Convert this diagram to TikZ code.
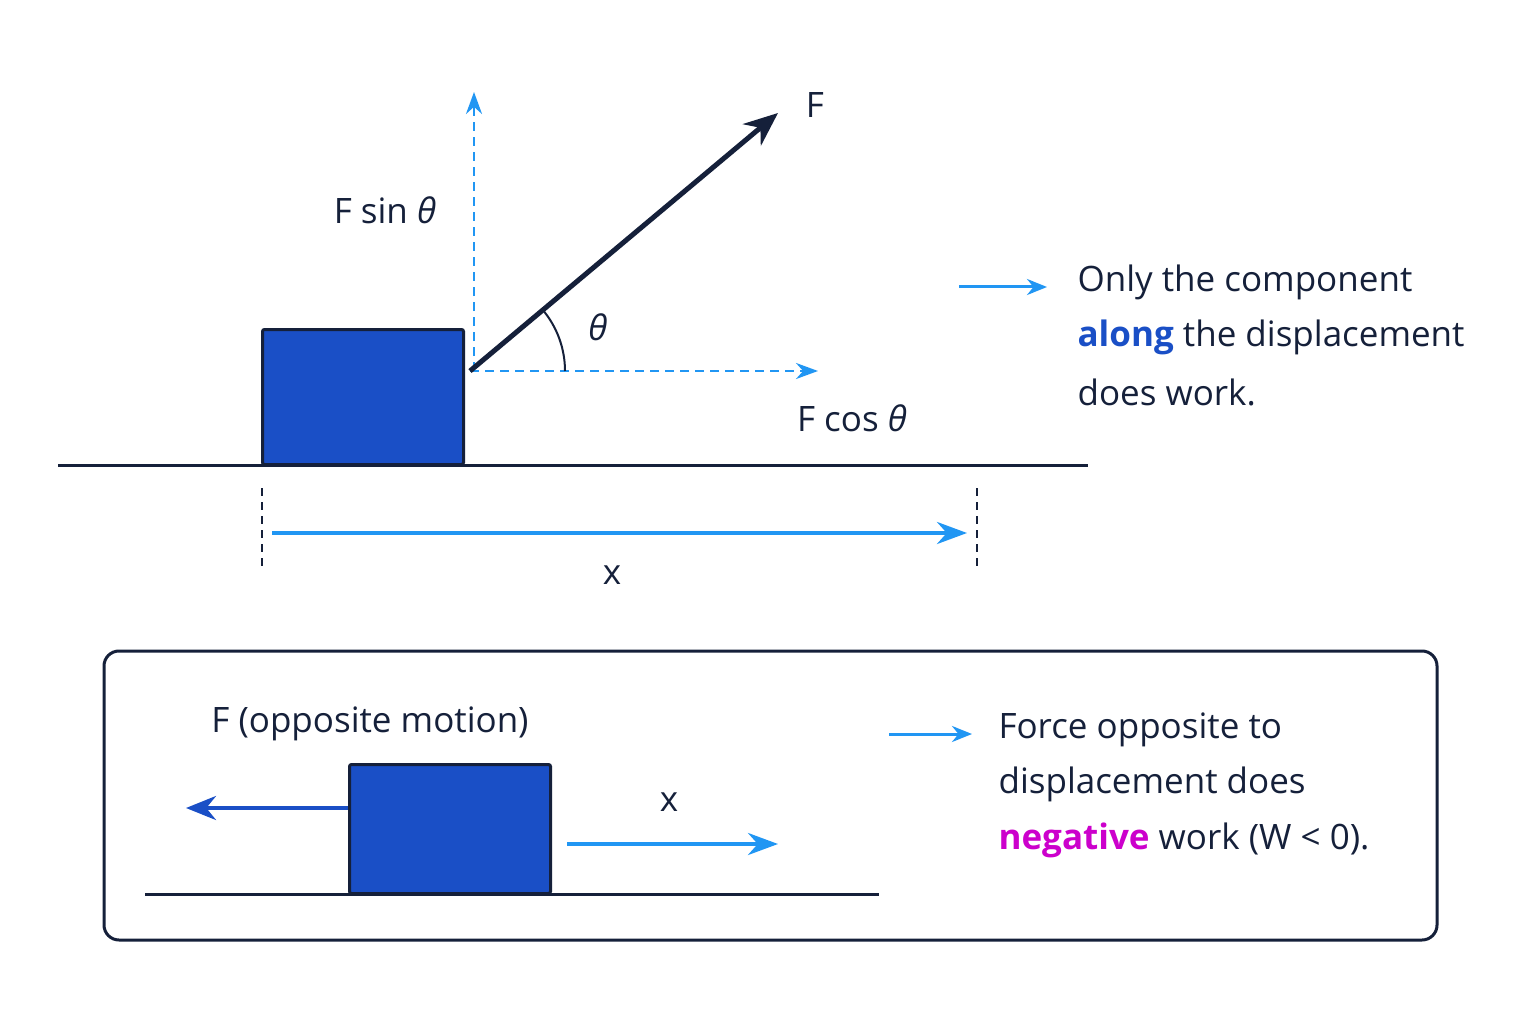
\documentclass[tikz,border=0pt]{standalone}
\usepackage{fontspec}
\setmainfont{Open Sans}
\usetikzlibrary{arrows.meta,calc}
\definecolor{navy}{HTML}{15203A}
\definecolor{bblue}{HTML}{1A4FC6}
\definecolor{lblue}{HTML}{2196F3}
\definecolor{mag}{HTML}{CC00CC}
\newcommand{\thet}{{\itshape θ}}
\begin{document}
\begin{tikzpicture}[x=1pt,y=-1pt,
 lbl/.style={font=\fontsize{35}{40}\selectfont,text=navy},
 txt/.style={font=\fontsize{35}{40}\selectfont,text=navy,anchor=west},
 block/.style={draw=navy,line width=3pt,fill=bblue,rounded corners=2pt},
 ground/.style={navy,line width=3pt},
 dashv/.style={lblue,line width=2.5pt,dash pattern=on 9pt off 6pt,-{Stealth[length=22pt,width=16pt]}},
 barr/.style={lblue,line width=4pt,-{Stealth[length=30pt,width=22pt]}}]
\fill[white] (0,0) rectangle (1536,1024);
\useasboundingbox (0,0) rectangle (1536,1024);
% top
\draw[ground] (58,465) -- (1088,465);
\node[block,minimum width=201pt,minimum height=135pt,anchor=north west,inner sep=0] (blk) at (261,328) {};
\coordinate (o) at (470,371);
\coordinate (fend) at (778,113);
\coordinate (vend) at (474,92);
\coordinate (hend) at (818,371);
\draw[dashv] (474,371) -- (vend);
\draw[dashv] (o) -- (hend);
\draw[navy,line width=5pt,-{Stealth[length=34pt,width=28pt]}] (o) -- (fend);
\draw[navy,line width=2pt] ($(o)+(95,0)$) arc[start angle=0,end angle=-40,radius=95];
\node[lbl] (F) at (815,105) {F};
\node[lbl] (fs) at (385,210) {F sin \thet};
\node[lbl] (fc) at (852,418) {F cos \thet};
\node[lbl] (th) at (598,327) {\thet};
\coordinate (t1a) at (262,488); \coordinate (t1b) at (262,566);
\coordinate (t2a) at (977,488); \coordinate (t2b) at (977,566);
\draw[navy,line width=2.5pt,dash pattern=on 8pt off 6pt] (t1a) -- (t1b);
\draw[navy,line width=2.5pt,dash pattern=on 8pt off 6pt] (t2a) -- (t2b);
\coordinate (ds) at (272,533); \coordinate (de) at (967,533);
\draw[barr] (ds) -- (de);
\node[lbl] (xl) at (612,575) {x};
\coordinate (a1s) at (959,287); \coordinate (a1e) at (1047,287);
\draw[lblue,line width=3pt,-{Stealth[length=20pt,width=16pt]}] (a1s) -- (a1e);
\node[txt] (t1) at (1074,282) {Only the component};
\node[txt] (t2) at (1074,337) {\textcolor{bblue}{\bfseries along} the displacement};
\node[txt] (t3) at (1074,392) {does work.};
% bottom
\draw[navy,line width=3pt,rounded corners=15pt] (104,651) rectangle (1437,940);
\draw[ground] (145,894) -- (879,894);
\node[block,minimum width=201pt,minimum height=129pt,anchor=north west,inner sep=0] (blk2) at (348,763) {};
\coordinate (la) at (186,808);
\draw[bblue,line width=4pt,-{Stealth[length=30pt,width=24pt]}] (blk2.west |- la) -- (la);
\node[lbl] (fo) at (370,724) {F (opposite motion)};
\node[lbl] (x2) at (669,802) {x};
\coordinate (b1) at (567,844); \coordinate (b2) at (778,844);
\draw[barr] (b1) -- (b2);
\coordinate (a2s) at (889,734); \coordinate (a2e) at (972,734);
\draw[lblue,line width=3pt,-{Stealth[length=20pt,width=16pt]}] (a2s) -- (a2e);
\node[txt] (u1) at (995,730) {Force opposite to};
\node[txt] (u2) at (995,784) {displacement does};
\node[txt] (u3) at (995,840) {\textcolor{mag}{\bfseries negative} work (W < 0).};
\end{tikzpicture}
\end{document}
